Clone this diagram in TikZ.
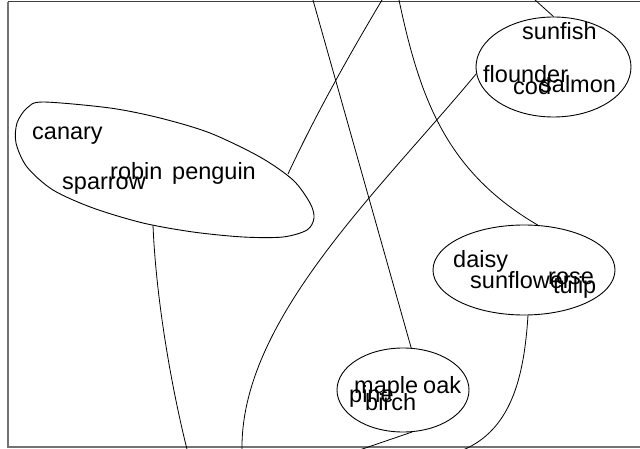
\documentclass[tikz,border=0pt]{standalone}
\usepackage{fontspec}
\setmainfont{Liberation Sans}
\usetikzlibrary{shapes.geometric}
\begin{document}
\begin{tikzpicture}[x=1pt,y=-1pt,
  lbl/.style={anchor=base west,inner sep=0pt,font=\fontsize{23.5}{28}\selectfont},
  grp/.style={draw,ellipse,inner sep=0pt,line width=0.9pt},
  conn/.style={draw,line width=0.8pt}]
\useasboundingbox (0,0) rectangle (640,449);
\clip (0,0) rectangle (640,449);
% frame
\draw[black!75,line width=1pt] (7.5,2) -- (660,2);
\draw[black!55,line width=2pt] (7.5,2) -- (7.5,447) -- (660,447);
% groups
\node[grp,minimum width=155pt,minimum height=100pt] (fish) at (553.5,67) {};
\node[grp,minimum width=182pt,minimum height=90pt] (flowers) at (524,270) {};
\node[grp,minimum width=132pt,minimum height=84pt] (trees) at (403,390) {};
\draw[line width=0.9pt] plot[smooth cycle] coordinates {(43,102) (110,108) (160,118) (210,133) (260,157) (293,180) (310,203) (314,218) (307,230) (283,237) (243,237) (193,232) (143,223) (93,208) (53,190) (27,167) (16,143) (17,123) (27,108)};
\coordinate (birdB) at (288,174);
\coordinate (birdF) at (153,225);
% free ends
\coordinate (a0) at (312.7,-1);
\coordinate (b0) at (382.6,-1);
\coordinate (c0) at (398.8,-1);
\coordinate (d0) at (534,-1);
\coordinate (e1) at (242,450);
\coordinate (f1) at (187.2,450);
\coordinate (g1) at (463,450);
\coordinate (h1) at (358,450.5);
% connectors
\draw[conn] (a0) -- (trees.79);
\draw[conn] (b0) .. controls (348,57) and (315.5,115) .. (birdB);
\draw[conn] (c0) .. controls (420,100) and (447,172) .. (flowers.73);
\draw[conn] (d0) -- (fish.north);
\draw[conn] (fish.185) .. controls (380,190) and (240,320) .. (e1);
\draw[conn] (birdF) .. controls (156,300) and (172,390) .. (f1);
\draw[conn] (flowers.-85) .. controls (524,380) and (510,430) .. (g1);
\draw[conn] (trees.-78) -- (h1);
% labels
\node[lbl] (sunfish) at (522,40) {sunfish};
\node[lbl] (flounder) at (483,83) {flounder};
\node[lbl] (cod) at (513,95) {cod};
\node[lbl] (salmon) at (540,93) {salmon};
\node[lbl] (canary) at (32,140) {canary};
\node[lbl] (sparrow) at (62,190) {sparrow};
\node[lbl] (robin) at (110,180) {robin};
\node[lbl] (penguin) at (172,180) {penguin};
\node[lbl] (daisy) at (453,267) {daisy};
\node[lbl] (sunflower) at (470,288) {sunflower};
\node[lbl] (rose) at (548,284) {rose};
\node[lbl] (tulip) at (553,293) {tulip};
\node[lbl] (maple) at (354,393) {maple};
\node[lbl] (oak) at (423,393) {oak};
\node[lbl] (pine) at (349,402) {pine};
\node[lbl] (birch) at (365,410) {birch};
\end{tikzpicture}
\end{document}
